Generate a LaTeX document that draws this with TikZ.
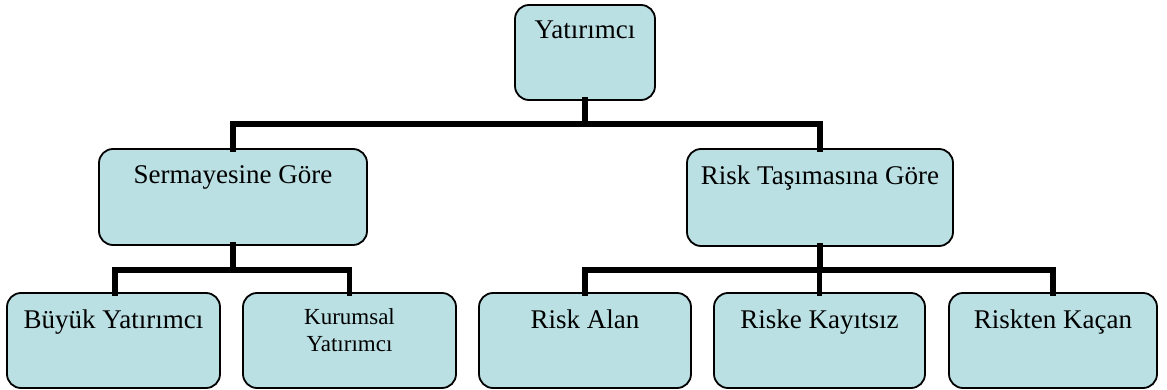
\documentclass[tikz,border=0pt]{standalone}
\usepackage{fontspec}
\setmainfont{Liberation Serif}
\definecolor{boxfill}{HTML}{BAE0E3}
% #1 width, #2 height, #3 distance from top to first baseline, #4 text
\newcommand\boxcontent[4]{\parbox[c][#2][t]{#1}{\centering\rule{0pt}{#3}#4}}
\begin{document}
\begin{tikzpicture}[x=1pt,y=-1pt,
  catbox/.style={draw=black, line width=1.8pt, fill=boxfill, rounded corners=14pt,
    inner sep=0pt, outer sep=0pt, font=\fontsize{27}{30}\selectfont},
  smallbox/.style={catbox, font=\fontsize{23}{27}\selectfont},
  conn/.style={draw=black, line width=5.5pt, line join=miter, line cap=rect}]
\useasboundingbox (0,0) rectangle (1167,390);

% levels of the tree
\node[catbox] (top)   at (585,52.5)   {\boxcontent{140pt}{95pt}{34pt}{Yatırımcı}};
\node[catbox] (serm)  at (233,197)    {\boxcontent{268pt}{96pt}{35pt}{Sermayesine Göre}};
\node[catbox] (risk)  at (820,197.5)  {\boxcontent{266pt}{97pt}{35pt}{Risk Taşımasına Göre}};
\node[catbox] (buyuk) at (113.5,340.5){\boxcontent{213pt}{95pt}{35pt}{Büyük Yatırımcı}};
\node[smallbox] (kurum) at (349.5,340.5){\boxcontent{213pt}{95pt}{31pt}{Kurumsal\\Yatırımcı}};
\node[catbox] (alan)  at (585,340.5)  {\boxcontent{212pt}{95pt}{35pt}{Risk Alan}};
\node[catbox] (kayit) at (819.5,340.5){\boxcontent{211pt}{95pt}{35pt}{Riske Kayıtsız}};
\node[catbox] (kacan) at (1053,340.5) {\boxcontent{208pt}{95pt}{35pt}{Riskten Kaçan}};

% horizontal bus levels
\coordinate (busA) at (0,124);
\coordinate (busB) at (0,270);

% top level connectors
\draw[conn] (top.south) -- (top.south |- busA);
\draw[conn] (serm.north) -- (serm.north |- busA) -- (risk.north |- busA) -- (risk.north);

% left branch
\draw[conn] (serm.south) -- (serm.south |- busB);
\draw[conn] ([xshift=1.5pt]buyuk.north) -- ([xshift=1.5pt]buyuk.north |- busB) -- (kurum.north |- busB) -- (kurum.north);

% right branch
\draw[conn] (risk.south) -- (risk.south |- busB);
\draw[conn] (alan.north) -- (alan.north |- busB) -- (kacan.north |- busB) -- (kacan.north);
\draw[conn] (kayit.north) -- (kayit.north |- busB);
\end{tikzpicture}
\end{document}
